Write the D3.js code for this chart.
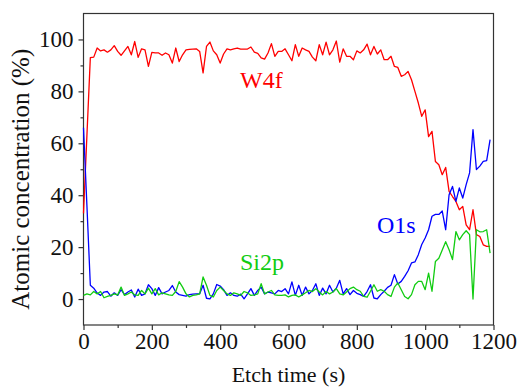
<!DOCTYPE html>
<html>
<head>
<meta charset="utf-8">
<script src="https://cdn.jsdelivr.net/npm/d3@7/dist/d3.min.js"></script>
<style>
  body { margin: 0; background: #fff; }
  svg { display: block; }
  text { font-family: "Liberation Serif", "DejaVu Serif", serif; fill: #111; }
</style>
</head>
<body>
<div id="chart"></div>
<script>
// etch time (s), sampled every 10 s
var etchTime = [0,10,20,30,40,50,60,70,80,90,100,110,120,130,140,150,160,170,180,190,
  200,210,220,230,240,250,260,270,280,290,300,310,320,330,340,350,360,370,380,390,
  400,410,420,430,440,450,460,470,480,490,500,510,520,530,540,550,560,570,580,590,
  600,610,620,630,640,650,660,670,680,690,700,710,720,730,740,750,760,770,780,790,
  800,810,820,830,840,850,860,870,880,890,900,910,920,930,940,950,960,970,980,990,
  1000,1010,1020,1030,1040,1050,1060,1070,1080,1090,1100,1110,1120,1130,1140,1150,1160,1170,1180,1190];

var w4f = [33,63,93,93.2,96.7,95.6,96,95.1,96,97.6,95.4,93.9,95.6,97.3,94.1,99.2,93.1,96.4,96,89.6,
  95,94.8,94.8,93.9,94.8,94.1,90.9,96.7,91.5,94.1,96,96.2,96.3,96.4,95.4,87.1,97.3,99,95.6,94.1,
  90.9,94.4,96.4,96,96.4,96.7,96.3,96.3,96.3,97.1,95.1,94.6,92.9,92.4,94.8,98.4,93.5,95.4,95.4,96.4,
  94.1,91.8,98,93.5,96.7,96,95.4,93.2,91.8,98,94.1,99,94.1,96,99.4,91.3,96.4,93.5,93.5,92.2,
  95.6,94.8,96,98.2,94.1,97.3,94.4,96,92.2,92.2,93.5,89.6,89.2,85.8,86.4,87.7,84.5,80,75.5,70.4,
  72.9,62.6,64.6,53,51.7,47.9,50.7,41.5,39.5,37.6,34.4,35.7,28.6,26.7,34.4,24.8,24.1,20.9,20.3,20.3];

var o1s = [66,36,5.3,4.2,2.3,1.4,2.7,2.9,1.1,2.4,1.4,3.6,1.7,2.7,3.5,0.8,3.8,1.4,2,5.5,
  4,1.4,4.4,2,2.7,3.3,5.2,2.7,1.7,1.4,1.1,1.7,1.9,2,2,5.3,0.3,0.1,2,5.6,
  5,3.6,1.4,2.4,1.4,1.1,1.9,0.1,2,4,1.4,3.3,4.6,2,2.7,2.4,2,3.3,2.9,4,
  2,6.6,1.4,5.3,1.4,4.6,2,3.3,5.9,1.4,4.2,2,5.3,2.7,4.2,7.2,2,4,1.7,3.3,
  2.2,1.7,1,2.9,5.5,0.4,0.1,1.7,3,4.5,5.3,9.4,5.8,6.8,8.7,10.9,13.9,14.3,17.1,21,
  23.5,26.7,31.9,32.6,32.6,33.9,26.7,40.2,43.4,37.6,42.8,38.9,44.1,48.6,65.3,49.9,51.2,53,53.3,61.4];

var si2p = [1.4,2,1.6,2.9,2,2.9,0.5,1,1.4,2,1.6,4.6,1.4,2,2.7,1.6,1.4,3.3,2,4.2,
  2,4,1.6,2.4,2,1.6,1.4,2.9,6.7,4.6,2,0.8,1.4,1.6,2,8.5,5.3,1.4,0.8,3.3,
  4.6,3.3,2,1.4,2.4,2,1.4,2.9,2.4,1.4,1.6,2,5.9,2,2.7,3.3,1.6,1.4,1.4,1.6,
  0.8,1.4,1.6,0.8,1.6,2.4,3.3,2.9,4,2.7,1.6,2.9,2,2.7,4,2,1.6,2.7,4,4.6,
  3.6,3,1,0.7,3,5.5,3,3.6,3,1.7,1,4.6,6.2,3.6,1,0.1,1.7,5.5,6.8,6.8,
  3.6,10,3,14.5,15.7,18.9,22.1,19,15.2,26,22.8,24.8,26.3,24.8,0,26.7,25.9,26,26.7,17.7];

var xTicks = [0, 200, 400, 600, 800, 1000, 1200];
var yTicks = [0, 20, 40, 60, 80, 100];

var series = [
  { name: "W4f", values: w4f, color: "#ff0000", lx: 240, ly: 88 },
  { name: "O1s", values: o1s, color: "#0000ff", lx: 377, ly: 233 },
  { name: "Si2p", values: si2p, color: "#11cc11", lx: 240, ly: 270 }
];

var width = 522, height = 387;
var mLeft = 83.5, mRight = 493.5, mTop = 13.5, mBottom = 325;

var svg = d3.select("#chart").append("svg")
  .attr("width", width)
  .attr("height", height);

var x = d3.scaleLinear().domain([0, 1200]).range([mLeft, mRight]);
var y = d3.scaleLinear().domain([-10, 110]).range([mBottom, mTop]);

// frame
svg.append("rect")
  .attr("x", mLeft).attr("y", mTop)
  .attr("width", mRight - mLeft).attr("height", mBottom - mTop)
  .attr("fill", "none").attr("stroke", "#333").attr("stroke-width", 1.2);

// minor ticks
var xMinor = svg.append("g").attr("transform", "translate(0," + mBottom + ")")
  .call(d3.axisBottom(x).tickValues([100, 300, 500, 700, 900, 1100]).tickSize(3).tickFormat(""));
var yMinor = svg.append("g").attr("transform", "translate(" + mLeft + ",0)")
  .call(d3.axisLeft(y).tickValues([10, 30, 50, 70, 90]).tickSize(3).tickFormat(""));

var xAxis = svg.append("g").attr("transform", "translate(0," + mBottom + ")")
  .call(d3.axisBottom(x).tickValues(xTicks).tickSize(5).tickPadding(3).tickFormat(d3.format("d")));
var yAxis = svg.append("g").attr("transform", "translate(" + mLeft + ",0)")
  .call(d3.axisLeft(y).tickValues(yTicks).tickSize(5).tickPadding(5).tickFormat(d3.format("d")));

[xMinor, yMinor, xAxis, yAxis].forEach(function (g) {
  g.select(".domain").remove();
  g.selectAll("line").attr("stroke", "#333").attr("stroke-width", 1.2);
});
xAxis.selectAll("text").style("font-size", "23px").attr("fill", "#111");
yAxis.selectAll("text").style("font-size", "23px").attr("fill", "#111");

// lines
var line = d3.line()
  .x(function (d, i) { return x(etchTime[i]); })
  .y(function (d) { return y(d); });

series.forEach(function (s) {
  svg.append("path")
    .datum(s.values)
    .attr("d", line)
    .attr("fill", "none")
    .attr("stroke", s.color)
    .attr("stroke-width", 1.3)
    .attr("stroke-linejoin", "round");
});

// series labels
svg.selectAll(".lbl")
  .data(series)
  .enter().append("text")
  .attr("class", "lbl")
  .attr("x", function (d) { return d.lx; })
  .attr("y", function (d) { return d.ly; })
  .style("font-size", "24px")
  .style("fill", function (d) { return d.color; })
  .text(function (d) { return d.name; });

// axis titles
svg.append("text")
  .attr("x", (mLeft + mRight) / 2)
  .attr("y", 382)
  .attr("text-anchor", "middle")
  .style("font-size", "22px")
  .text("Etch time (s)");

svg.append("text")
  .attr("transform", "translate(29," + ((mTop + mBottom) / 2 + 10) + ") rotate(-90)")
  .attr("text-anchor", "middle")
  .style("font-size", "25px")
  .text("Atomic concentration (%)");
</script>
</body>
</html>
